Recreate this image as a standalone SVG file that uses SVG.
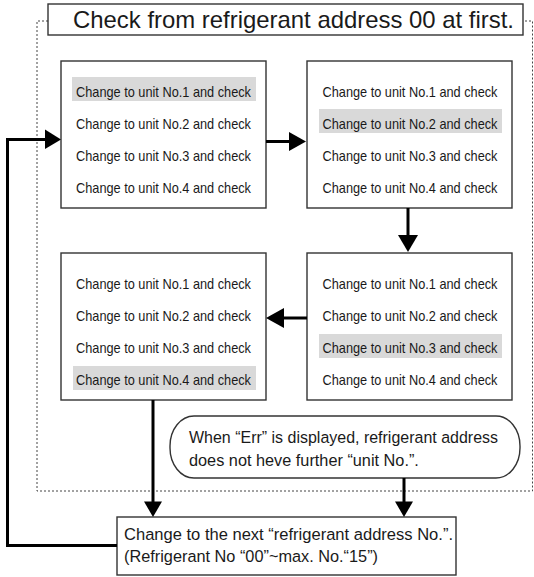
<svg xmlns="http://www.w3.org/2000/svg" width="534" height="577" viewBox="0 0 534 577">
<style>
.box{fill:#fff;stroke:#333;stroke-width:1.4}
.hl{fill:#d9d9d9}
.t{font-family:"Liberation Sans",Arial,sans-serif;font-size:15px;fill:#1a1a1a;text-anchor:middle}
.big{font-family:"Liberation Sans",Arial,sans-serif;font-size:24px;fill:#1a1a1a}
.mid{font-family:"Liberation Sans",Arial,sans-serif;font-size:16.3px;fill:#1a1a1a}
.ln{fill:none;stroke:#000;stroke-width:3}
.ah{fill:#000}
.dot{fill:none;stroke:#444;stroke-width:1;stroke-dasharray:2 2}
</style>
<path class="dot" d="M48,21 H37 V491 H532.5 V21 H523"/>
<g id="title">
<rect class="box" x="48" y="4" width="475" height="31"/>
<text class="big" x="73" y="28" textLength="441" lengthAdjust="spacingAndGlyphs">Check from refrigerant address 00 at first.</text>
</g>
<g id="box1">
<rect class="box" x="61" y="61" width="205" height="147"/>
<rect class="hl" x="72" y="77" width="184" height="24"/>
<text class="t" x="163.5" y="96.5" textLength="175" lengthAdjust="spacingAndGlyphs">Change to unit No.1 and check</text>
<text class="t" x="163.5" y="128.5" textLength="175" lengthAdjust="spacingAndGlyphs">Change to unit No.2 and check</text>
<text class="t" x="163.5" y="160.5" textLength="175" lengthAdjust="spacingAndGlyphs">Change to unit No.3 and check</text>
<text class="t" x="163.5" y="192.5" textLength="175" lengthAdjust="spacingAndGlyphs">Change to unit No.4 and check</text>
</g>
<g id="box2">
<rect class="box" x="307" y="61" width="205" height="147"/>
<rect class="hl" x="319" y="109" width="183" height="24"/>
<text class="t" x="410" y="96.5" textLength="175" lengthAdjust="spacingAndGlyphs">Change to unit No.1 and check</text>
<text class="t" x="410" y="128.5" textLength="175" lengthAdjust="spacingAndGlyphs">Change to unit No.2 and check</text>
<text class="t" x="410" y="160.5" textLength="175" lengthAdjust="spacingAndGlyphs">Change to unit No.3 and check</text>
<text class="t" x="410" y="192.5" textLength="175" lengthAdjust="spacingAndGlyphs">Change to unit No.4 and check</text>
</g>
<g id="box3">
<rect class="box" x="307" y="253" width="205" height="147"/>
<rect class="hl" x="319" y="334" width="183" height="24"/>
<text class="t" x="410" y="288.5" textLength="175" lengthAdjust="spacingAndGlyphs">Change to unit No.1 and check</text>
<text class="t" x="410" y="320.5" textLength="175" lengthAdjust="spacingAndGlyphs">Change to unit No.2 and check</text>
<text class="t" x="410" y="352.5" textLength="175" lengthAdjust="spacingAndGlyphs">Change to unit No.3 and check</text>
<text class="t" x="410" y="384.5" textLength="175" lengthAdjust="spacingAndGlyphs">Change to unit No.4 and check</text>
</g>
<g id="box4">
<rect class="box" x="61" y="253" width="205" height="147"/>
<rect class="hl" x="73" y="366" width="183" height="24"/>
<text class="t" x="163.5" y="288.5" textLength="175" lengthAdjust="spacingAndGlyphs">Change to unit No.1 and check</text>
<text class="t" x="163.5" y="320.5" textLength="175" lengthAdjust="spacingAndGlyphs">Change to unit No.2 and check</text>
<text class="t" x="163.5" y="352.5" textLength="175" lengthAdjust="spacingAndGlyphs">Change to unit No.3 and check</text>
<text class="t" x="163.5" y="384.5" textLength="175" lengthAdjust="spacingAndGlyphs">Change to unit No.4 and check</text>
</g>
<g id="note">
<rect class="box" x="170" y="416" width="350" height="62" rx="24" ry="30"/>
<text class="mid" x="189" y="443" textLength="309" lengthAdjust="spacingAndGlyphs">When “Err” is displayed, refrigerant address</text>
<text class="mid" x="189" y="466">does not heve further “unit No.”.</text>
</g>
<g id="next">
<rect class="box" x="117" y="517" width="339" height="58"/>
<text class="mid" x="124" y="540" textLength="329" lengthAdjust="spacingAndGlyphs">Change to the next “refrigerant address No.”.</text>
<text class="mid" x="124" y="562" textLength="254" lengthAdjust="spacingAndGlyphs">(Refrigerant No “00”~max. No.“15”)</text>
</g>
<g id="connectors">
<path class="ln" d="M266,141.5 H291"/>
<polygon class="ah" points="289,132 306,141.5 289,151"/>
<path class="ln" d="M408,208 V237"/>
<polygon class="ah" points="398,235 418,235 408,252"/>
<path class="ln" d="M307,318 H282"/>
<polygon class="ah" points="284,308 284,328 266,318"/>
<path class="ln" d="M153,400 V503"/>
<polygon class="ah" points="144,501.5 162,501.5 153,517"/>
<path class="ln" d="M404,478 V503"/>
<polygon class="ah" points="395,501.5 413,501.5 404,517"/>
<path class="ln" d="M117,545.5 H7.5 V139.5 H47"/>
<polygon class="ah" points="45,129.5 45,149 61,139.5"/>
</g>
</svg>
